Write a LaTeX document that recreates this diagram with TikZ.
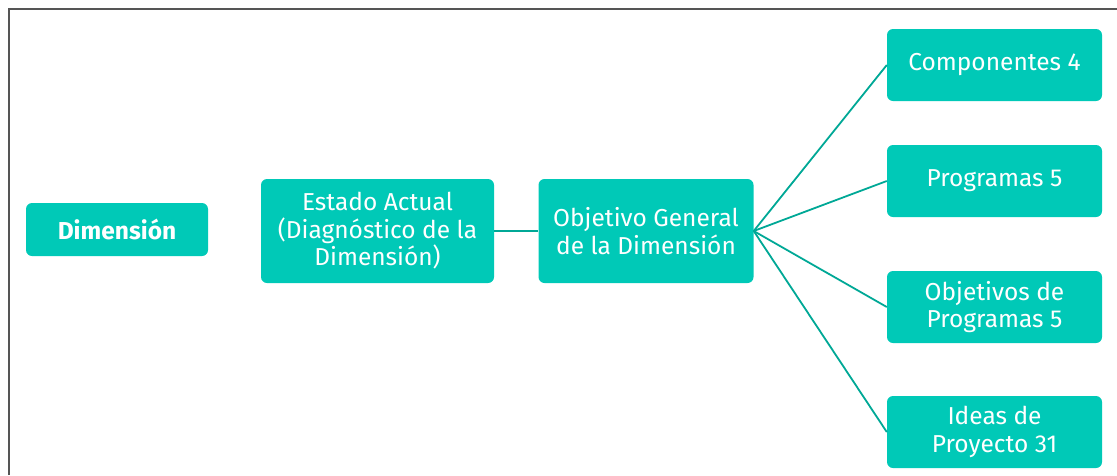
\documentclass[tikz,border=0pt]{standalone}
\usepackage{fontspec}
\setmainfont{Fira Sans}
\definecolor{boxteal}{RGB}{0,201,183}
\definecolor{lineteal}{RGB}{0,168,150}
\definecolor{framegray}{RGB}{85,85,85}
\tikzset{
  caja/.style={fill=boxteal, rounded corners=6pt, text=white, align=center,
    font=\fontsize{24.5}{27.5}\selectfont, inner sep=0pt},
  cajader/.style={caja, minimum width=215pt, minimum height=72pt},
  enlace/.style={draw=lineteal, line width=1.8pt}
}
\begin{document}
\begin{tikzpicture}[x=1pt, y=-1pt]
            \useasboundingbox (0, 0) rectangle (1117, 475);
            \draw[framegray, line width=1.5pt] (9, 475) -- (9, 9) -- (1117, 9);
            \node[caja, minimum width=182pt, minimum height=53pt] (dim) at (117, 229.5) {\bfseries Dimensión};
            \node[caja, minimum width=233pt, minimum height=104pt] (estado) at (377.5, 231) {Estado Actual\\(Diagnóstico de la\\Dimensión)};
            \node[caja, minimum width=215pt, minimum height=104pt] (objetivo) at (646, 231) {Objetivo General\\de la Dimensión};
            \node[cajader] (comp) at (994.5, 65) {Componentes 4};
            \node[cajader] (prog) at (994.5, 181) {Programas 5};
            \node[cajader] (objprog) at (994.5, 307) {Objetivos de\\Programas 5};
            \node[cajader] (ideas) at (994.5, 432) {Ideas de\\Proyecto 31};
            \draw[enlace] (estado) -- (objetivo);
            \draw[enlace] (objetivo.east) -- (comp.west);
            \draw[enlace] (objetivo.east) -- (prog.west);
            \draw[enlace] (objetivo.east) -- (objprog.west);
            \draw[enlace] (objetivo.east) -- (ideas.west);
        \end{tikzpicture}
\end{document}
